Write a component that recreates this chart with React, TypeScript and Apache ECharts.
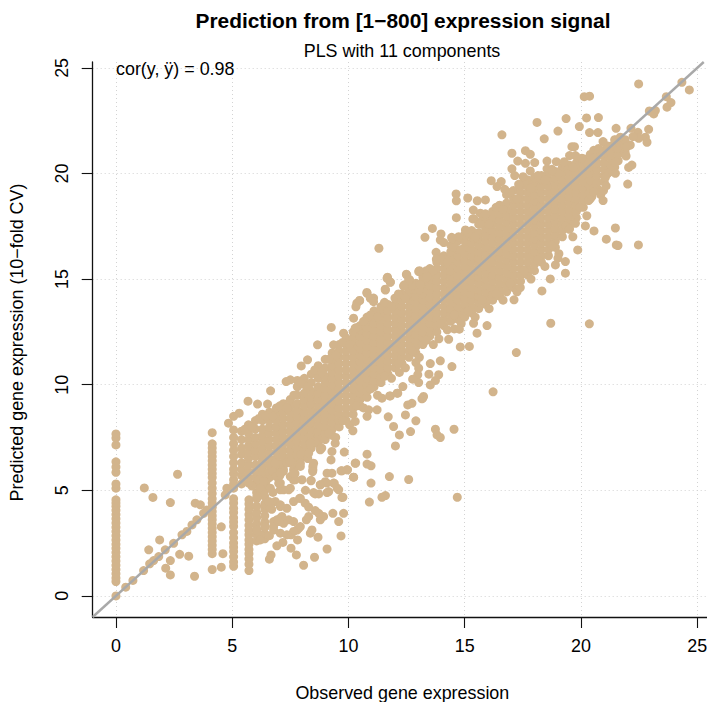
import React, { useEffect, useRef } from "react";
import * as echarts from "echarts";

const titleText = "Prediction from [1\u2212800] expression signal";
const subtitleText = "PLS with 11 components";
const xName = "Observed gene expression";
const yName = "Predicted gene expression (10\u2212fold CV)";
const corText = "cor(y, \u00ff) = 0.98";
const tickValues = [0, 5, 10, 15, 20, 25];
const diagonal = [[-1, -1], [25.28, 25.28]];

// vertical stacks: x, then the y values read at that x
const stacks: [number, number[]][] = [
  [0, [0, 0.68, 0.85, 1.05, 1.25, 1.45, 1.65, 1.85, 2.05, 2.25, 2.45, 2.65, 2.85, 3.05, 3.25, 3.45, 3.65, 3.85, 4.05, 4.25, 4.4, 4.55, 5.1, 5.3, 5.85, 6.1, 6.35, 7.15, 7.48, 7.67]],
  [4.14, [1.25, 2.0, 2.2, 2.4, 2.6, 2.8, 3.0, 3.2, 3.4, 3.6, 3.8, 4.0, 4.2, 4.4, 4.6, 4.85, 5.1, 5.35, 5.6, 5.8, 6.0, 6.2, 6.4, 6.6, 6.8, 7.0, 7.2, 7.73]],
  [5.06, [1.4, 1.6, 1.85, 2.1, 2.3, 2.5, 2.75, 3.0, 3.3, 3.5, 3.7, 3.95, 4.15, 4.4, 4.6, 5.1, 5.3, 5.5, 5.8, 6.0, 6.3, 6.6, 6.9, 7.2, 7.5, 7.86]],
  [5.72, [1.2, 1.5, 1.75, 2.0, 2.2, 2.45, 2.65, 2.9, 3.1, 3.35, 3.6, 3.85, 4.1, 4.35, 4.55]],
  [6.05, [2.6, 2.9, 3.15, 3.4, 3.7, 3.95, 4.25, 4.6, 4.9]],
  [6.4, [2.7, 2.95, 3.25, 3.5, 3.8, 4.1, 4.35, 4.7, 5.0, 5.3, 5.6]],
];

// the solid band: columns of estimated centres
const band: [number, number[]][] = [
  [5.4, [5.3, 5.7, 6.0, 6.3, 6.7, 7.0, 7.4, 7.8]],
  [5.7, [5.6, 5.9, 6.2, 6.5, 6.8, 7.1, 7.4, 7.7, 8.1]],
  [6.0, [5.3, 5.6, 5.9, 6.2, 6.6, 6.9, 7.2, 7.5, 7.9, 8.3]],
  [6.3, [5.5, 5.8, 6.1, 6.4, 6.7, 7.0, 7.3, 7.6, 7.9, 8.3, 8.6]],
  [6.6, [5.6, 5.9, 6.2, 6.5, 6.8, 7.1, 7.4, 7.7, 8.0, 8.3, 8.7]],
  [6.9, [5.9, 6.2, 6.5, 6.8, 7.1, 7.4, 7.7, 8.0, 8.3, 8.6, 8.9]],
  [7.2, [6.0, 6.3, 6.6, 6.9, 7.2, 7.5, 7.8, 8.1, 8.4, 8.7, 9.1]],
  [7.5, [6.3, 6.6, 6.9, 7.2, 7.5, 7.8, 8.1, 8.4, 8.7, 9.0, 9.3]],
  [7.8, [6.4, 6.7, 7.0, 7.3, 7.6, 7.9, 8.2, 8.5, 8.8, 9.1, 9.5, 9.9, 10.2]],
  [8.1, [6.6, 6.9, 7.2, 7.5, 7.8, 8.1, 8.4, 8.7, 9.0, 9.3, 9.6, 10.0, 10.3]],
  [8.4, [7.0, 7.3, 7.6, 7.9, 8.2, 8.5, 8.8, 9.1, 9.4, 9.7, 10.1, 10.5]],
  [8.7, [7.2, 7.5, 7.8, 8.1, 8.4, 8.7, 9.0, 9.3, 9.6, 9.9, 10.3, 10.6, 10.9]],
  [9.0, [7.4, 7.7, 8.0, 8.3, 8.6, 8.9, 9.2, 9.5, 9.8, 10.1, 10.4, 10.8, 11.2]],
  [9.3, [7.6, 7.9, 8.2, 8.5, 8.8, 9.1, 9.4, 9.7, 10.0, 10.3, 10.6, 10.9, 11.2, 11.5]],
  [9.6, [8.0, 8.3, 8.6, 8.9, 9.2, 9.5, 9.8, 10.1, 10.4, 10.7, 11.0, 11.3, 11.6, 11.9]],
  [9.9, [8.3, 8.6, 8.9, 9.2, 9.5, 9.8, 10.1, 10.4, 10.7, 11.0, 11.3, 11.6, 11.9, 12.2]],
  [10.2, [8.6, 8.9, 9.2, 9.5, 9.8, 10.1, 10.4, 10.7, 11.0, 11.3, 11.6, 11.9, 12.2, 12.5]],
  [10.5, [9.0, 9.3, 9.6, 9.9, 10.2, 10.5, 10.8, 11.1, 11.4, 11.7, 12.0, 12.3, 12.6, 12.8]],
  [10.8, [9.4, 9.7, 10.0, 10.3, 10.6, 10.9, 11.2, 11.5, 11.8, 12.1, 12.4, 12.7, 13.0, 13.2]],
  [11.1, [9.9, 10.2, 10.5, 10.8, 11.1, 11.4, 11.7, 12.0, 12.3, 12.6, 12.9, 13.2, 13.5]],
  [11.4, [10.1, 10.4, 10.7, 11.0, 11.3, 11.6, 11.9, 12.2, 12.5, 12.8, 13.1, 13.4, 13.7]],
  [11.7, [10.5, 10.8, 11.1, 11.4, 11.7, 12.0, 12.3, 12.6, 12.9, 13.2, 13.5, 13.8]],
  [12.0, [10.8, 11.1, 11.4, 11.7, 12.0, 12.3, 12.6, 12.9, 13.2, 13.5, 13.8, 14.1]],
  [12.3, [11.0, 11.3, 11.6, 11.9, 12.2, 12.5, 12.8, 13.1, 13.4, 13.7, 14.0, 14.3]],
  [12.6, [11.3, 11.6, 11.9, 12.2, 12.5, 12.8, 13.1, 13.4, 13.7, 14.0, 14.3, 14.5]],
  [12.9, [11.5, 11.8, 12.1, 12.4, 12.7, 13.0, 13.3, 13.6, 13.9, 14.2, 14.5, 14.8]],
  [13.2, [11.9, 12.2, 12.5, 12.8, 13.1, 13.4, 13.7, 14.0, 14.3, 14.6, 14.9, 15.1]],
  [13.5, [12.3, 12.6, 12.9, 13.2, 13.5, 13.8, 14.1, 14.4, 14.7, 15.0, 15.3, 15.5]],
  [13.8, [12.5, 12.8, 13.1, 13.4, 13.7, 14.0, 14.3, 14.6, 14.9, 15.2, 15.5, 15.8]],
  [14.1, [12.8, 13.1, 13.4, 13.7, 14.0, 14.3, 14.6, 14.9, 15.2, 15.5, 15.8, 16.1]],
  [14.4, [13.0, 13.3, 13.6, 13.9, 14.2, 14.5, 14.8, 15.1, 15.4, 15.7, 16.0, 16.3, 16.6]],
  [14.7, [13.1, 13.4, 13.7, 14.0, 14.3, 14.6, 14.9, 15.2, 15.5, 15.8, 16.1, 16.4, 16.8]],
  [15.0, [13.2, 13.5, 13.8, 14.1, 14.4, 14.7, 15.0, 15.3, 15.6, 15.9, 16.2, 16.5, 16.8, 17.1]],
  [15.3, [13.4, 13.7, 14.0, 14.3, 14.6, 14.9, 15.2, 15.5, 15.8, 16.1, 16.4, 16.7, 17.0, 17.3]],
  [15.6, [13.6, 13.9, 14.2, 14.5, 14.8, 15.1, 15.4, 15.7, 16.0, 16.3, 16.6, 16.9, 17.2, 17.6]],
  [15.9, [13.8, 14.1, 14.4, 14.7, 15.0, 15.3, 15.6, 15.9, 16.2, 16.5, 16.8, 17.1, 17.4, 17.7, 18.0]],
  [16.2, [14.0, 14.3, 14.6, 14.9, 15.2, 15.5, 15.8, 16.1, 16.4, 16.7, 17.0, 17.3, 17.6, 17.9, 18.2]],
  [16.5, [14.2, 14.5, 14.8, 15.1, 15.4, 15.7, 16.0, 16.3, 16.6, 16.9, 17.2, 17.5, 17.8, 18.1, 18.5]],
  [16.8, [14.4, 14.7, 15.0, 15.3, 15.6, 15.9, 16.2, 16.5, 16.8, 17.1, 17.4, 17.7, 18.0, 18.3, 18.6, 19.0]],
  [17.1, [14.6, 14.9, 15.2, 15.5, 15.8, 16.1, 16.4, 16.7, 17.0, 17.3, 17.6, 17.9, 18.2, 18.5, 18.8, 19.2]],
  [17.4, [14.9, 15.2, 15.5, 15.8, 16.1, 16.4, 16.7, 17.0, 17.3, 17.6, 17.9, 18.2, 18.5, 18.8, 19.1, 19.4]],
  [17.7, [15.2, 15.5, 15.8, 16.1, 16.4, 16.7, 17.0, 17.3, 17.6, 17.9, 18.2, 18.5, 18.8, 19.1, 19.4, 19.7]],
  [18.0, [15.4, 15.7, 16.0, 16.3, 16.6, 16.9, 17.2, 17.5, 17.8, 18.1, 18.4, 18.7, 19.0, 19.3, 19.6, 19.8]],
  [18.3, [15.8, 16.1, 16.4, 16.7, 17.0, 17.3, 17.6, 17.9, 18.2, 18.5, 18.8, 19.1, 19.4, 19.7, 19.9]],
  [18.6, [16.1, 16.4, 16.7, 17.0, 17.3, 17.6, 17.9, 18.2, 18.5, 18.8, 19.1, 19.4, 19.7, 20.0]],
  [18.9, [16.5, 16.8, 17.1, 17.4, 17.7, 18.0, 18.3, 18.6, 18.9, 19.2, 19.5, 19.8, 20.1]],
  [19.2, [17.0, 17.3, 17.6, 17.9, 18.2, 18.5, 18.8, 19.1, 19.4, 19.7, 20.0, 20.3]],
  [19.5, [17.4, 17.7, 18.0, 18.3, 18.6, 18.9, 19.2, 19.5, 19.8, 20.1, 20.4]],
  [19.8, [17.9, 18.2, 18.5, 18.8, 19.1, 19.4, 19.7, 20.0, 20.3, 20.5]],
  [20.1, [18.4, 18.7, 19.0, 19.3, 19.6, 19.9, 20.2, 20.5, 20.7]],
  [20.4, [18.8, 19.1, 19.4, 19.7, 20.0, 20.3, 20.6, 20.9]],
  [20.7, [19.3, 19.6, 19.9, 20.2, 20.5, 20.8, 21.0]],
  [21.0, [19.6, 19.9, 20.2, 20.5, 20.8, 21.1]],
  [21.3, [20.1, 20.4, 20.7, 21.0, 21.3]],
  [21.6, [20.6, 20.9, 21.2, 21.5]],
  [21.9, [21.0, 21.3, 21.6]],
];

const bandUpperEdge = [
  [5.55, 7.9], [5.85, 8.0], [6.15, 8.4], [6.45, 8.5], [6.75, 8.5], [7.05, 9.0], [7.35, 8.9], [7.65, 9.5], [7.95, 10.1], [8.25, 9.9], [8.55, 10.7], [8.85, 10.6], [9.15, 11.2], [9.45, 11.4], [9.75, 12.0], [10.05, 11.9], [10.35, 12.7], [10.65, 13.0], [10.95, 13.3], [11.25, 13.2], [11.55, 13.9], [11.85, 13.7], [12.15, 14.3], [12.45, 14.1], [12.75, 14.7], [13.05, 14.5], [13.35, 15.4], [13.65, 15.4], [13.95, 16.0], [14.25, 15.8], [14.55, 16.5], [14.85, 16.4], [15.15, 17.2], [15.45, 17.0], [15.75, 17.8], [16.05, 17.6], [16.35, 18.4], [16.65, 18.3], [16.95, 19.1], [17.25, 18.8], [17.55, 19.6], [17.85, 19.3], [18.15, 19.9], [18.45, 19.7], [18.75, 20.2], [19.05, 20.0], [19.35, 20.4], [19.65, 20.3], [19.95, 20.7], [20.25, 20.5], [20.55, 21.1], [20.85, 20.9], [21.15, 21.3], [21.45, 21.6],
];

const bandLowerEdge = [
  [5.55, 5.5], [5.85, 5.2], [6.15, 5.5], [6.45, 5.4], [6.75, 5.9], [7.05, 5.7], [7.35, 6.3], [7.65, 6.2], [7.95, 6.7], [8.25, 6.5], [8.55, 7.3], [8.85, 7.0], [9.15, 7.7], [9.45, 7.5], [9.75, 8.3], [10.05, 8.1], [10.35, 9.0], [10.65, 8.9], [10.95, 9.8], [11.25, 9.5], [11.55, 10.4], [11.85, 10.3], [12.15, 11.0], [12.45, 10.8], [12.75, 11.6], [13.05, 11.3], [13.35, 12.1], [13.65, 11.9], [13.95, 12.9], [14.25, 12.6], [14.55, 13.3], [14.85, 12.9], [15.15, 13.5], [15.45, 13.2], [15.75, 14.0], [16.05, 13.6], [16.35, 14.3], [16.65, 14.0], [16.95, 14.8], [17.25, 14.4], [17.55, 15.4], [17.85, 15.0], [18.15, 15.9], [18.45, 15.6], [18.75, 16.6], [19.05, 16.2], [19.35, 17.5], [19.65, 17.0], [19.95, 18.4], [20.25, 18.0], [20.55, 19.3], [20.85, 19.0], [21.15, 20.0], [21.45, 20.3],
];

const lowEndPoints = [
  [0.42, 0.41], [0.73, 0.73], [1.19, 1.2], [1.45, 1.52], [1.62, 1.67], [1.84, 1.86], [2.12, 2.18], [2.48, 2.49], [2.84, 2.89], [3.05, 3.05], [3.27, 3.36], [3.48, 3.6], [3.77, 3.91], [3.91, 4.07], [4.77, 5.1], [4.7, 4.78],
  [1.22, 5.11], [1.59, 4.66], [2.34, 4.42], [2.65, 5.76], [3.41, 4.39], [3.63, 4.31], [1.88, 2.65], [1.41, 2.18], [2.74, 1.97], [3.13, 1.88], [2.34, 1.67], [2.14, 1.31], [2.34, 0.99], [3.38, 0.93], [4.53, 3.27], [4.6, 2.0], [4.53, 1.36],
];

const lowerTrianglePoints = [
  [6.92, 2.37], [7.18, 2.53], [7.53, 2.26], [7.76, 1.94], [8.07, 1.45], [8.54, 1.83], [9.08, 2.22], [6.6, 1.74], [6.67, 1.94], [9.68, 2.84], [8.69, 2.78], [8.43, 3.12], [8.36, 2.97], [7.81, 2.65], [7.79, 3.12], [7.93, 3.28], [8.19, 3.6], [8.29, 3.76], [8.79, 3.6], [8.93, 3.76], [8.72, 3.91], [8.57, 4.04], [8.29, 4.2], [8.14, 4.39], [7.9, 4.62], [7.64, 4.47], [7.35, 4.15], [7.07, 4.23], [6.85, 4.47], [9.33, 3.91], [9.79, 3.91], [9.58, 3.52], [9.76, 4.67], [9.52, 5.1], [9.39, 5.33], [9.08, 4.89], [8.72, 4.83], [8.5, 4.89], [8.79, 5.26], [9.0, 5.41], [9.08, 5.81], [9.29, 5.81], [9.72, 5.92], [9.96, 5.97], [10.22, 5.62], [10.29, 6.28], [8.39, 5.45], [8.47, 5.97], [7.64, 5.49], [7.5, 5.1], [7.07, 5.02], [6.9, 5.65], [7.43, 3.6], [7.07, 3.68], [6.78, 3.52], [7.21, 3.44], [7.53, 2.89], [7.07, 2.97], [6.78, 3.12], [6.6, 2.85], [6.7, 4.1], [6.75, 4.9],
  [10.8, 6.71], [10.31, 6.29], [10.8, 6.24], [10.97, 6.16], [9.93, 5.97], [9.68, 5.92], [10.22, 5.62], [10.97, 5.34], [9.58, 5.02], [9.72, 4.66], [9.82, 6.81], [9.43, 7.23], [9.25, 6.44], [9.29, 6.84], [8.79, 6.92], [8.47, 6.13], [8.46, 5.89], [8.39, 5.47], [9.07, 5.34], [8.79, 5.26], [8.57, 4.83], [9.15, 4.94], [9.36, 5.34], [7.2, 5.9], [7.7, 5.8], [8.0, 5.5], [8.15, 5.0],
  [6.38, 5.41], [6.64, 5.1], [6.21, 5.1], [6.35, 4.78], [6.64, 4.15], [6.57, 4.47], [6.21, 2.89], [6.21, 2.65], [6.06, 3.12], [6.42, 3.28], [6.78, 3.28], [6.92, 3.6], [7.14, 3.76], [7.64, 3.52], [7.86, 3.2], [7.64, 3.05], [7.35, 2.89], [7.07, 4.31], [7.93, 4.62], [7.0, 5.33], [7.07, 5.81], [7.5, 5.65], [7.64, 5.97], [7.93, 6.28], [8.29, 6.76], [8.5, 6.28], [7.57, 6.28], [6.85, 6.28], [7.21, 5.02], [7.0, 3.52],
  [5.71, 5.34], [6.06, 4.71], [6.35, 5.42], [7.07, 5.34], [7.43, 5.02], [7.71, 5.5], [7.64, 5.81], [7.93, 6.13], [7.5, 6.36], [8.36, 7.23],
];

const lowerSidePoints = [
  [20.36, 12.88], [18.7, 12.91], [18.32, 14.44], [17.12, 14.02], [18.68, 15.01], [19.33, 15.28], [18.9, 15.67], [19.33, 15.83], [17.39, 14.6], [15.96, 12.8], [15.53, 12.44], [15.38, 12.91], [17.22, 11.52], [16.22, 9.66], [15.2, 11.81], [14.81, 11.79], [14.31, 12.15], [13.89, 12.17], [14.55, 12.64], [14.77, 12.63], [14.45, 10.86], [13.95, 11.13], [13.52, 11.0], [12.9, 11.05], [13.02, 10.78], [13.88, 10.47], [13.46, 10.5], [13.74, 10.2], [13.52, 9.99], [12.98, 10.47], [12.76, 10.26], [13.02, 10.1], [12.19, 10.58], [12.34, 9.91], [12.12, 9.6], [11.77, 9.47], [13.23, 9.44], [13.16, 9.33], [12.73, 9.12], [12.55, 9.04], [12.45, 8.57], [12.9, 8.29], [11.71, 8.48], [11.94, 8.02], [12.67, 7.78], [12.19, 7.62], [12.02, 7.1], [13.74, 7.89], [13.81, 7.62], [13.95, 7.5], [14.54, 7.89], [11.76, 5.65], [12.59, 5.51], [14.68, 4.67], [11.59, 4.75], [11.44, 4.67], [10.9, 4.44],
  [11.8, 9.47], [11.44, 9.36], [11.23, 8.81], [10.87, 8.81], [10.8, 8.5], [10.29, 8.26], [10.19, 7.82], [13.19, 9.36], [12.09, 9.6],
  [20.19, 17.52], [20.56, 17.28], [21.48, 17.42], [21.09, 16.89], [21.52, 16.62], [21.59, 16.59], [22.47, 16.62], [19.86, 16.38], [19.5, 17.36], [19.76, 17.64], [19.01, 15.99], [20.33, 18.72], [20.95, 18.72], [20.47, 18.91], [20.55, 19.14], [20.97, 19.19], [21.08, 19.41], [22.01, 19.5], [21.05, 19.82], [21.48, 20.01], [22.05, 20.29], [22.19, 20.4], [21.48, 20.53], [21.94, 20.83],
];

const upperSidePoints = [
  [9.26, 12.71], [6.65, 9.71], [5.68, 9.22], [6.09, 9.08], [6.52, 9.08], [4.84, 8.18], [5.06, 8.5], [5.3, 8.65],
  [10.36, 13.86], [10.48, 13.99], [10.79, 14.37], [11.08, 14.1], [11.58, 14.52], [11.68, 15.09], [11.8, 14.86], [12.4, 14.73], [12.51, 15.2], [12.63, 14.97], [13.09, 14.73], [13.02, 15.36], [10.22, 13.15], [10.29, 12.68], [9.79, 12.44], [9.36, 11.89], [8.67, 11.89], [8.24, 11.18], [7.97, 10.89], [7.5, 10.23], [7.32, 10.15],
  [11.31, 16.46], [14.63, 19.03], [14.64, 18.71], [15.13, 18.84], [15.54, 18.71], [15.89, 18.75], [15.37, 18.27], [15.39, 17.86], [14.64, 17.91], [13.61, 17.4], [13.29, 16.98], [13.98, 17.14], [14.44, 16.98], [13.95, 16.85], [14.1, 16.73], [13.77, 16.27], [13.78, 15.94], [13.05, 15.4], [12.49, 15.23], [12.59, 14.96], [11.66, 15.04], [11.8, 14.85], [12.37, 14.67], [13.38, 15.1], [10.8, 14.33], [10.94, 14.09], [10.48, 13.98], [10.32, 13.69], [11.59, 14.48], [11.08, 13.93],
  [15.03, 17.33], [14.74, 17.01], [14.45, 16.93], [15.67, 17.6], [15.35, 17.85], [15.67, 18.12], [15.89, 18.09],
  [17.03, 20.96], [17.61, 21.08], [17.82, 20.91], [17.28, 20.59], [17.61, 20.48], [18.01, 20.52], [18.54, 20.59], [18.94, 20.56], [19.28, 20.56], [19.51, 20.85], [19.76, 20.85], [20.04, 20.72], [20.55, 20.72], [17.03, 20.22], [17.82, 20.12], [18.54, 20.22], [18.75, 20.14], [16.14, 19.66], [16.57, 19.62], [16.39, 19.38], [17.15, 19.9], [17.51, 19.85], [16.72, 19.25], [17.32, 19.49],
];

const topTailPoints = [
  [22.48, 24.24], [24.34, 24.32], [24.66, 23.96], [23.67, 23.64], [23.87, 23.36], [23.7, 23.14], [23.05, 22.93], [23.2, 22.98], [22.94, 22.96], [23.13, 22.82], [20.14, 23.64], [20.37, 23.66], [18.11, 22.42], [19.36, 22.6], [20.24, 22.63], [20.75, 22.65], [19.01, 22.01], [19.93, 22.22], [20.37, 21.94], [20.73, 21.94], [21.51, 22.14], [16.6, 21.83], [18.42, 21.64], [22.15, 22.14], [22.91, 22.09], [22.45, 21.95], [22.77, 21.72], [22.84, 21.48], [22.48, 21.67], [22.24, 21.75], [22.12, 21.35], [21.98, 21.27], [19.61, 21.27], [19.72, 21.27], [20.95, 21.51], [20.76, 21.19], [21.48, 21.59], [21.69, 21.72],
];

const columnPoints = (cols: [number, number[]][]) =>
  cols.flatMap(([x, ys]) => ys.map((y) => [x, y]));

const points = [
  ...columnPoints(stacks),
  ...columnPoints(band),
  ...bandUpperEdge,
  ...bandLowerEdge,
  ...lowEndPoints,
  ...lowerTrianglePoints,
  ...lowerSidePoints,
  ...upperSidePoints,
  ...topTailPoints,
];

const font = "'Liberation Sans', Arial, sans-serif";
const axisColor = "#111";

const axisBase = {
  type: "value",
  min: -1,
  axisLine: { show: true, onZero: false, lineStyle: { color: axisColor, width: 1.3 } },
  axisTick: { show: true, length: 11, customValues: tickValues, lineStyle: { color: axisColor, width: 1.1 } },
  splitLine: { show: true, lineStyle: { color: "#d3d3d3", width: 1, type: [1, 3] } },
  nameLocation: "middle",
  nameTextStyle: { color: "#000", fontFamily: font, fontSize: 17.9 },
};

export default function App() {
  const ref = useRef<HTMLDivElement>(null);
  useEffect(() => {
    document.body.style.margin = "0";
    const chart = echarts.init(ref.current!, undefined, { renderer: "svg" });
    chart.setOption({
      animation: false,
      backgroundColor: "#fff",
      title: [
        { text: titleText, left: 398, top: 5, textAlign: "center", textStyle: { fontFamily: font, fontWeight: "bold", fontSize: 20.9, color: "#000" } },
        { text: subtitleText, left: 397, top: 37, textAlign: "center", textStyle: { fontFamily: font, fontWeight: "normal", fontSize: 17.9, color: "#000" } },
      ],
      grid: { left: 92.7, right: 0, top: 62, bottom: 85, containLabel: false, outerBoundsMode: "none" },
      xAxis: {
        ...axisBase,
        max: 25.42,
        name: xName,
        nameGap: 67,
        nameTextStyle: { ...axisBase.nameTextStyle, padding: [0, 0, 0, 5] },
        axisLabel: { customValues: tickValues, margin: 20, color: "#000", fontFamily: font, fontSize: 17.9, showMinLabel: true, showMaxLabel: true },
      },
      yAxis: {
        ...axisBase,
        max: 25.28,
        name: yName,
        nameGap: 67,
        nameTextStyle: { ...axisBase.nameTextStyle, padding: [0, 6, 0, 0] },
        axisLabel: { customValues: tickValues, rotate: 90, margin: 22, color: "#000", fontFamily: font, fontSize: 17.9 },
      },
      series: [
        { type: "scatter", data: points, symbol: "circle", symbolSize: 9, itemStyle: { color: "#D2B48C", opacity: 1 }, clip: false, z: 2 },
        { type: "line", data: diagonal, symbol: "none", lineStyle: { color: "#A9A9A9", width: 2.4 }, z: 3 },
      ],
      graphic: [
        { type: "text", left: 116, top: 60, z: 10, style: { text: corText, fontFamily: font, fontSize: 17.9, fill: "#000" } },
      ],
    });
    return () => chart.dispose();
  }, []);
  return <div ref={ref} style={{ position: "absolute", left: 0, top: 0, width: 707, height: 702 }} />;
}
